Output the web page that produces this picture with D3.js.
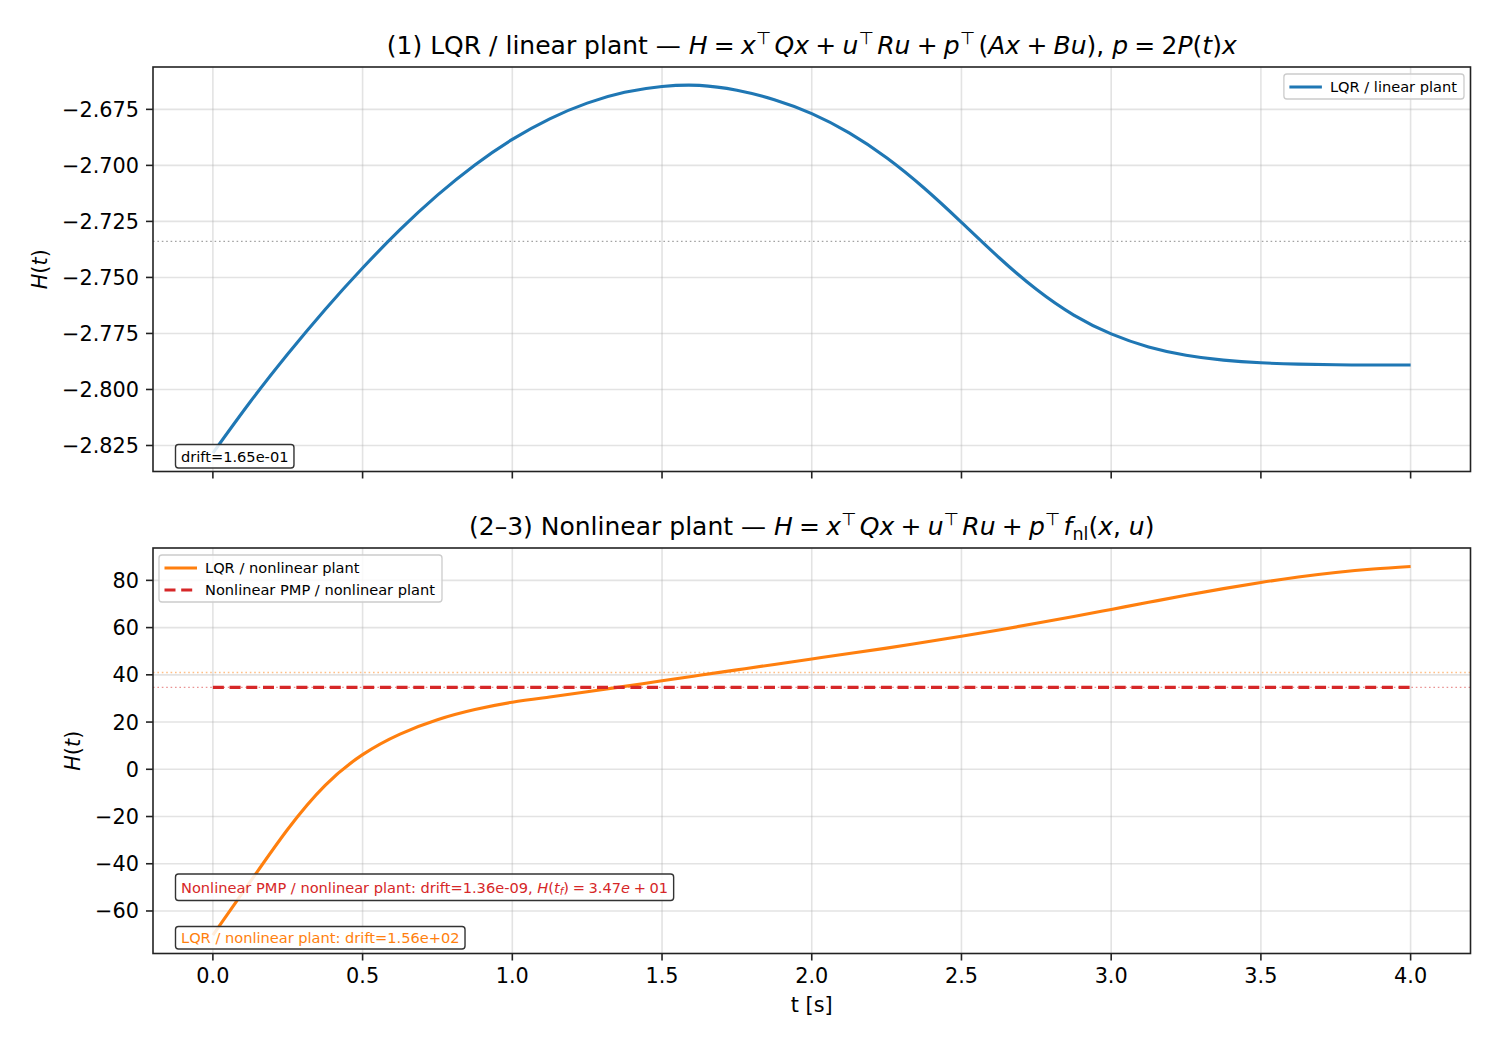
<!DOCTYPE html>
<html><head><meta charset="utf-8">
<script src="https://cdn.jsdelivr.net/npm/d3@7"></script>
<style>
body{margin:0;background:#fff}
svg{display:block}
text{font-family:"DejaVu Sans","Liberation Sans",sans-serif;fill:#000}
</style>
</head><body>
<svg id="chart" width="1501" height="1047"></svg>
<script>
// ---------------- data ----------------
const tGrid = [0,0.125,0.25,0.375,0.5,0.625,0.75,0.875,1.0,1.125,1.25,1.375,1.5,1.625,1.75,1.875,2.0,2.125,2.25,2.375,2.5,2.625,2.75,2.875,3.0,3.125,3.25,3.375,3.5,3.625,3.75,3.875,4.0];
const hLqrLinear = [-2.8284,-2.8055,-2.7842,-2.7643,-2.7458,-2.7287,-2.7133,-2.6998,-2.6884,-2.6792,-2.6722,-2.6674,-2.6648,-2.6643,-2.6665,-2.6707,-2.6769,-2.6855,-2.6966,-2.7101,-2.7254,-2.7411,-2.7553,-2.7668,-2.7752,-2.7810,-2.7847,-2.7869,-2.7881,-2.7887,-2.7890,-2.7891,-2.7891];
const hLqrNonlinear = [-70.2,-47.6,-25.4,-6.8,6.2,14.9,21.0,25.3,28.4,30.6,32.8,35.1,37.5,39.8,42.1,44.4,46.7,49.0,51.3,53.8,56.3,59.0,61.8,64.7,67.7,70.7,73.7,76.5,79.1,81.4,83.3,84.8,85.9];

const tPmp = [0,0.5,1.0,1.5,2.0,2.5,3.0,3.5,4.0];
const hPmpNonlinear = [34.7,34.7,34.7,34.7,34.7,34.7,34.7,34.7,34.7];

const refLinear = -2.7339;     // dotted reference, panel 1
const refLqrNonlinear = 41.0;  // dotted reference (orange), panel 2
const refPmpNonlinear = 34.7;  // dotted reference (red), panel 2

const xTicks = [0.0,0.5,1.0,1.5,2.0,2.5,3.0,3.5,4.0];
const xTickLabels = ["0.0","0.5","1.0","1.5","2.0","2.5","3.0","3.5","4.0"];
const yTicksTop = [-2.825,-2.800,-2.775,-2.750,-2.725,-2.700,-2.675];
const yTickLabelsTop = ["\u22122.825","\u22122.800","\u22122.775","\u22122.750","\u22122.725","\u22122.700","\u22122.675"];
const yTicksBot = [-60,-40,-20,0,20,40,60,80];
const yTickLabelsBot = ["\u221260","\u221240","\u221220","0","20","40","60","80"];

const seriesNames = ["LQR / linear plant","LQR / nonlinear plant","Nonlinear PMP / nonlinear plant"];
const driftLinear = "drift=1.65e-01";
const driftLqrNl = "LQR / nonlinear plant: drift=1.56e+02";
const driftPmpNl = "Nonlinear PMP / nonlinear plant: drift=1.36e-09, ";
const hFinalPmp = "3.47";

// ---------------- layout ----------------
const C0 = "#1f77b4", C1 = "#ff7f0e", C3 = "#d62728";
const svg = d3.select("#chart");
const L = 153, R = 1470.5;
const panels = [{top:67, bottom:471.5},{top:548, bottom:953.5}];
const tickFont = 20.8, smallFont = 14.6, titleFont = 25;
const SP = "\u2005"; // math operator spacing

function padDomain(vals){
  const [a,b] = d3.extent(vals); const m = (b-a)*0.05; return [a-m,b+m];
}
const x = d3.scaleLinear().domain(padDomain(tGrid.concat(tPmp))).range([L,R]);
const yTop = d3.scaleLinear().domain(padDomain(hLqrLinear)).range([panels[0].bottom, panels[0].top]);
const yBot = d3.scaleLinear().domain(padDomain(hLqrNonlinear.concat(hPmpNonlinear))).range([panels[1].bottom, panels[1].top]);

function rich(textSel, segs, fs){
  let shift = 0;
  segs.forEach(s=>{
    const sp = textSel.append("tspan").text(s.t);
    if (s.i) sp.attr("font-style","italic");
    let target = 0, size = fs;
    if (s.sup){ target = -fs*0.42; size = fs*0.7; }
    if (s.sub){ target = fs*0.2; size = fs*0.7; }
    sp.attr("font-size", size);
    if (target !== shift){ sp.attr("dy", target - shift); shift = target; }
  });
  return textSel;
}

function drawPanel(p, y, yTicks, yLabels, showXLabels){
  const g = svg.append("g");
  g.selectAll(null).data(xTicks).join("line")
    .attr("x1",d=>x(d)).attr("x2",d=>x(d)).attr("y1",p.top).attr("y2",p.bottom)
    .attr("stroke","#b0b0b0").attr("stroke-opacity",0.35).attr("stroke-width",1.6);
  g.selectAll(null).data(yTicks).join("line")
    .attr("y1",d=>y(d)).attr("y2",d=>y(d)).attr("x1",L).attr("x2",R)
    .attr("stroke","#b0b0b0").attr("stroke-opacity",0.35).attr("stroke-width",1.6);
  g.selectAll(null).data(xTicks).join("line")
    .attr("x1",d=>x(d)).attr("x2",d=>x(d)).attr("y1",p.bottom).attr("y2",p.bottom+7)
    .attr("stroke","#222").attr("stroke-width",1.6);
  g.selectAll(null).data(yTicks).join("line")
    .attr("y1",d=>y(d)).attr("y2",d=>y(d)).attr("x1",L-7).attr("x2",L)
    .attr("stroke","#222").attr("stroke-width",1.6);
  g.selectAll(null).data(yTicks).join("text")
    .attr("x",L-14).attr("y",d=>y(d)).attr("dy","0.36em")
    .attr("text-anchor","end").attr("font-size",tickFont).text((d,i)=>yLabels[i]);
  if (showXLabels){
    g.selectAll(null).data(xTicks).join("text")
      .attr("x",d=>x(d)).attr("y",p.bottom+14).attr("dy","0.76em")
      .attr("text-anchor","middle").attr("font-size",tickFont).text((d,i)=>xTickLabels[i]);
  }
  return g;
}
function drawSpines(p){
  svg.append("rect").attr("x",L).attr("y",p.top).attr("width",R-L).attr("height",p.bottom-p.top)
    .attr("fill","none").attr("stroke","#222").attr("stroke-width",1.6);
}
function hRef(y, v, color, op){
  svg.append("line").attr("x1",L).attr("x2",R).attr("y1",y(v)).attr("y2",y(v))
    .attr("stroke",color).attr("stroke-opacity",op).attr("stroke-width",1.4)
    .attr("stroke-dasharray","1.6,2.8");
}
function curve(y, ts, vs, color, dash){
  const line = d3.line().x((d,i)=>x(ts[i])).y(d=>y(d)).curve(d3.curveNatural);
  const pth = svg.append("path").attr("d", line(vs)).attr("fill","none")
    .attr("stroke",color).attr("stroke-width",3.1);
  if (dash) pth.attr("stroke-dasharray", dash);
}
function box(xLeft, yBottom, h, color, segs){
  const g = svg.append("g");
  const rect = g.append("rect");
  const t = g.append("text").attr("x", xLeft+5.5).attr("font-size",smallFont).style("fill",color);
  rich(t, segs, smallFont);
  t.selectAll("tspan").style("fill",color);
  const w = t.node().getComputedTextLength();
  rect.attr("x",xLeft).attr("y",yBottom-h).attr("width",w+11).attr("height",h).attr("rx",3)
    .attr("fill","#fff").attr("fill-opacity",0.85).attr("stroke","#333").attr("stroke-width",1.4);
  t.attr("y", yBottom - h/2).attr("dy","0.36em");
  return t;
}

// ---------------- panel 1 ----------------
drawPanel(panels[0], yTop, yTicksTop, yTickLabelsTop, false);
hRef(yTop, refLinear, "#999", 0.9);
curve(yTop, tGrid, hLqrLinear, C0);
drawSpines(panels[0]);

// ---------------- panel 2 ----------------
drawPanel(panels[1], yBot, yTicksBot, yTickLabelsBot, true);
hRef(yBot, refLqrNonlinear, C1, 0.5);
hRef(yBot, refPmpNonlinear, C3, 0.5);
curve(yBot, tGrid, hLqrNonlinear, C1);
curve(yBot, tPmp, hPmpNonlinear, C3, "11,5.7");
drawSpines(panels[1]);

// ---------------- titles & labels ----------------
rich(svg.append("text").attr("x",(L+R)/2).attr("y",panels[0].top-13).attr("text-anchor","middle").attr("font-size",titleFont),
  [{t:"(1) LQR / linear plant \u2014 "},{t:"H",i:1},{t:SP+"="+SP},{t:"x",i:1},{t:"\u22a4\u2009",sup:1},{t:"Qx",i:1},{t:SP+"+"+SP},
   {t:"u",i:1},{t:"\u22a4\u2009",sup:1},{t:"Ru",i:1},{t:SP+"+"+SP},{t:"p",i:1},{t:"\u22a4\u2009",sup:1},{t:"("},{t:"Ax",i:1},{t:SP+"+"+SP},
   {t:"Bu",i:1},{t:"), "},{t:"p",i:1},{t:SP+"="+SP+"2"},{t:"P",i:1},{t:"("},{t:"t",i:1},{t:")"},{t:"x",i:1}], titleFont);
rich(svg.append("text").attr("x",(L+R)/2).attr("y",panels[1].top-13).attr("text-anchor","middle").attr("font-size",titleFont),
  [{t:"(2\u20133) Nonlinear plant \u2014 "},{t:"H",i:1},{t:SP+"="+SP},{t:"x",i:1},{t:"\u22a4\u2009",sup:1},{t:"Qx",i:1},{t:SP+"+"+SP},
   {t:"u",i:1},{t:"\u22a4\u2009",sup:1},{t:"Ru",i:1},{t:SP+"+"+SP},{t:"p",i:1},{t:"\u22a4\u2009",sup:1},{t:"f",i:1},{t:"nl",sub:1},
   {t:"("},{t:"x",i:1},{t:", "},{t:"u",i:1},{t:")"}], titleFont);

const hLbl = [{t:"H",i:1},{t:"("},{t:"t",i:1},{t:")"}];
rich(svg.append("text").attr("transform",`translate(47,${(panels[0].top+panels[0].bottom)/2}) rotate(-90)`)
  .attr("text-anchor","middle").attr("font-size",tickFont), hLbl, tickFont);
rich(svg.append("text").attr("transform",`translate(80,${(panels[1].top+panels[1].bottom)/2}) rotate(-90)`)
  .attr("text-anchor","middle").attr("font-size",tickFont), hLbl, tickFont);
svg.append("text").attr("x",(L+R)/2).attr("y",1012).attr("text-anchor","middle").attr("font-size",tickFont).text("t [s]");

// ---------------- legends ----------------
function legend(entries, anchor, xEdge, yTop){
  const g = svg.append("g");
  const frame = g.append("rect");
  const rowH = 22;
  let maxW = 0;
  const texts = entries.map((e,i)=>{
    const t = g.append("text").attr("font-size",smallFont).attr("y", yTop+13+i*rowH).attr("dy","0.36em").text(e.name);
    maxW = Math.max(maxW, t.node().getComputedTextLength());
    return t;
  });
  const W = 46 + maxW + 7, H = 13 + (entries.length-1)*rowH + 12;
  const x0 = anchor==="right" ? xEdge - W : xEdge;
  frame.attr("x",x0).attr("y",yTop).attr("width",W).attr("height",H).attr("rx",3)
    .attr("fill","#fff").attr("fill-opacity",0.8).attr("stroke","#ccc").attr("stroke-width",1.3);
  entries.forEach((e,i)=>{
    const yy = yTop+13+i*rowH;
    const ln = g.append("line").attr("x1",x0+5.5).attr("x2",x0+38).attr("y1",yy).attr("y2",yy)
      .attr("stroke",e.color).attr("stroke-width",3.1);
    if (e.dash) ln.attr("stroke-dasharray",e.dash);
    texts[i].attr("x", x0+46);
  });
}
legend([{name:seriesNames[0], color:C0}], "right", R-6.5, panels[0].top+7);
legend([{name:seriesNames[1], color:C1},{name:seriesNames[2], color:C3, dash:"11,5.7"}], "left", L+6, panels[1].top+7);

// ---------------- drift annotations ----------------
box(L+22.5, panels[0].bottom-3.5, 23.5, "#000", [{t:driftLinear}]);
box(L+22.5, panels[1].bottom-53, 26.5, C3,
  [{t:driftPmpNl},{t:"H",i:1},{t:"("},{t:"t",i:1},{t:"f",i:1,sub:1},{t:")"},{t:SP+"="+SP+hFinalPmp},{t:"e",i:1},{t:SP+"+"+SP+"01"}]);
box(L+22.5, panels[1].bottom-4.5, 22.5, C1, [{t:driftLqrNl}]);
</script>
</body></html>
